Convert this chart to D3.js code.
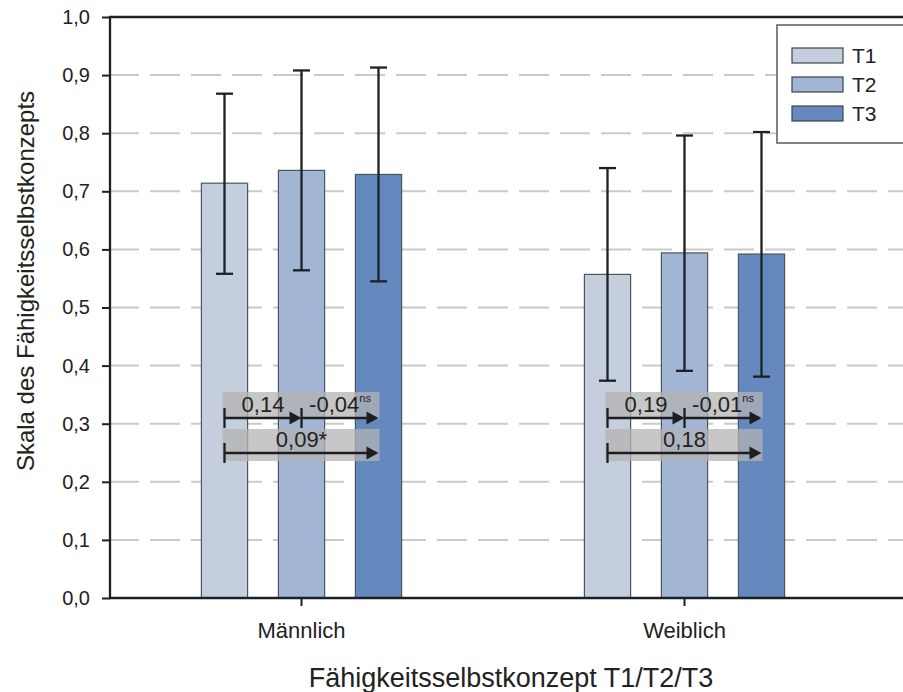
<!DOCTYPE html>
<html>
<head>
<meta charset="utf-8">
<script src="https://cdn.jsdelivr.net/npm/d3@7"></script>
<style>
  body { margin: 0; background: #fff; }
  svg { display: block; font-family: "Liberation Sans", Arial, Helvetica, sans-serif; }
</style>
</head>
<body>
<svg id="chart" width="903" height="692"></svg>
<script>
// ---------- data ----------
const categories = ["Männlich", "Weiblich"];
const series = ["T1", "T2", "T3"];
const seriesColors = ["#c5cedd", "#a2b5d5", "#6589bf"];
const meanT1 = [0.714, 0.557];
const meanT2 = [0.736, 0.594];
const meanT3 = [0.729, 0.592];
const upperT1 = [0.868, 0.740];
const upperT2 = [0.908, 0.796];
const upperT3 = [0.913, 0.802];
const lowerT1 = [0.558, 0.374];
const lowerT2 = [0.564, 0.391];
const lowerT3 = [0.545, 0.381];
const yTicks = [0, 0.1, 0.2, 0.3, 0.4, 0.5, 0.6, 0.7, 0.8, 0.9, 1.0];
// effect-size annotations: row 1 = step comparisons, row 2 = T1 -> T3
const effectGroup = ["Männlich", "Männlich", "Männlich", "Weiblich", "Weiblich", "Weiblich"];
const effectFrom  = ["T1", "T2", "T1", "T1", "T2", "T1"];
const effectTo    = ["T2", "T3", "T3", "T2", "T3", "T3"];
const effectRow   = [0, 0, 1, 0, 0, 1];
const effectLabel = ["0,14", "-0,04", "0,09*", "0,19", "-0,01", "0,18"];
const effectSup   = ["", "ns", "", "", "ns", ""];
const xTitle = "Fähigkeitsselbstkonzept T1/T2/T3";
const yTitle = "Skala des Fähigkeitsselbstkonzepts";

const means = [meanT1, meanT2, meanT3];
const uppers = [upperT1, upperT2, upperT3];
const lowers = [lowerT1, lowerT2, lowerT3];

(function () {
// ---------- layout ----------
const svg = d3.select("#chart");
const W = 903;
const pLeft = 110, pTop = 17, pBottom = 598;
const dark = "#1a2224";

const y = d3.scaleLinear().domain([0, 1]).range([pBottom, pTop]);
const x0 = d3.scaleBand().domain(categories).range([pLeft, 876]).padding(0);
const x1 = d3.scaleBand().domain(series).range([-115.5, 115.5]).paddingInner(0.4).paddingOuter(0.2);
const color = d3.scaleOrdinal().domain(series).range(seriesColors);
const loc = d3.formatLocale({decimal: ",", thousands: ".", grouping: [3], currency: ["", "€"]});
const fmt = loc.format(".1f");
const cx = (g, s) => x0(g) + x0.bandwidth() / 2 + x1(s) + x1.bandwidth() / 2;

// grid lines
svg.append("g").selectAll("line")
  .data(yTicks.filter(t => t > 0 && t < 1))
  .join("line")
  .attr("x1", pLeft - 1).attr("x2", W)
  .attr("y1", d => y(d)).attr("y2", d => y(d))
  .attr("stroke", "#cacacd").attr("stroke-width", 2)
  .attr("stroke-dasharray", "30,11");

// bars
const rows = [];
categories.forEach((g, gi) => series.forEach((s, si) => rows.push({
  g, s, mean: means[si][gi], hi: uppers[si][gi], lo: lowers[si][gi]
})));

svg.append("g").selectAll("rect")
  .data(rows).join("rect")
  .attr("x", d => x0(d.g) + x0.bandwidth() / 2 + x1(d.s))
  .attr("width", x1.bandwidth())
  .attr("y", d => y(d.mean))
  .attr("height", d => y(0) - y(d.mean))
  .attr("fill", d => color(d.s))
  .attr("stroke", "#4d555a").attr("stroke-width", 1.2);

// error bars
const eb = svg.append("g").attr("stroke", dark).attr("stroke-width", 2.3);
rows.forEach(d => {
  const c = cx(d.g, d.s);
  eb.append("line").attr("x1", c).attr("x2", c).attr("y1", y(d.hi)).attr("y2", y(d.lo));
  eb.append("line").attr("x1", c - 8.5).attr("x2", c + 8.5).attr("y1", y(d.hi)).attr("y2", y(d.hi));
  eb.append("line").attr("x1", c - 8.5).attr("x2", c + 8.5).attr("y1", y(d.lo)).attr("y2", y(d.lo));
});

// annotation boxes
const rowBox = [[392, 419], [429, 461]];
const rowArrow = [418, 453];
categories.forEach(g => {
  rowBox.forEach(([t, b]) => {
    svg.append("rect")
      .attr("x", cx(g, "T1") - 2).attr("width", cx(g, "T3") - cx(g, "T1") + 3)
      .attr("y", t).attr("height", b - t)
      .attr("fill", "#b4b4b4").attr("fill-opacity", 0.74);
  });
});

// arrows
const ar = svg.append("g");
effectGroup.forEach((g, i) => {
  const xa = cx(g, effectFrom[i]), xb = cx(g, effectTo[i]);
  const yy = rowArrow[effectRow[i]];
  ar.append("line").attr("x1", xa).attr("x2", xa).attr("y1", yy - 10).attr("y2", yy + 10)
    .attr("stroke", "#1e1e1e").attr("stroke-width", 2.3);
  ar.append("line").attr("x1", xa).attr("x2", xb - 8).attr("y1", yy).attr("y2", yy)
    .attr("stroke", "#1e1e1e").attr("stroke-width", 2.5);
  ar.append("path")
    .attr("d", `M${xb},${yy} L${xb - 12},${yy - 6.5} L${xb - 12},${yy + 6.5} Z`)
    .attr("fill", "#1e1e1e");
  const t = svg.append("text")
    .attr("x", (xa + xb) / 2).attr("y", yy - 6)
    .attr("text-anchor", "middle").attr("font-size", 22).attr("fill", "#222");
  t.append("tspan").text(effectLabel[i]);
  if (effectSup[i]) {
    t.append("tspan").attr("font-size", 11).attr("dy", -10).text(effectSup[i]);
  }
});

// y axis
const yAxis = svg.append("g").attr("transform", `translate(${pLeft},0)`)
  .call(d3.axisLeft(y).tickValues(yTicks).tickFormat(fmt).tickSize(8).tickPadding(12));
yAxis.select(".domain").remove();
yAxis.selectAll(".tick line").attr("stroke", dark).attr("stroke-width", 2);
yAxis.selectAll("text").attr("font-size", 20).attr("fill", "#222");
yAxis.attr("font-family", null);
svg.append("line").attr("x1", pLeft).attr("x2", pLeft).attr("y1", pTop - 1).attr("y2", pBottom + 1)
  .attr("stroke", dark).attr("stroke-width", 2.3);

// x axis
const xAxis = svg.append("g").attr("transform", `translate(0,${pBottom})`)
  .call(d3.axisBottom(x0).tickSize(8).tickPadding(16));
xAxis.select(".domain").remove();
xAxis.selectAll(".tick line").attr("stroke", dark).attr("stroke-width", 2);
xAxis.selectAll("text").attr("font-size", 22).attr("fill", "#222");
xAxis.attr("font-family", null);
svg.append("line").attr("x1", pLeft - 1).attr("x2", W).attr("y1", pBottom).attr("y2", pBottom)
  .attr("stroke", dark).attr("stroke-width", 2.3);
// top frame
svg.append("line").attr("x1", pLeft - 1).attr("x2", W).attr("y1", pTop).attr("y2", pTop)
  .attr("stroke", dark).attr("stroke-width", 2.3);

// titles
svg.append("text").attr("x", 511).attr("y", 687).attr("text-anchor", "middle")
  .attr("font-size", 27).attr("fill", "#222").text(xTitle);
svg.append("text").attr("transform", "translate(34,281) rotate(-90)").attr("text-anchor", "middle")
  .attr("font-size", 24).attr("fill", "#222").text(yTitle);

// legend
const lg = svg.append("g");
lg.append("rect").attr("x", 777).attr("y", 25).attr("width", 160).attr("height", 118)
  .attr("fill", "#fff").attr("stroke", "#5a5a5a").attr("stroke-width", 1.5);
series.forEach((s, i) => {
  const cy = 55.5 + i * 29;
  lg.append("rect").attr("x", 792).attr("y", cy - 7.5).attr("width", 51).attr("height", 15)
    .attr("fill", color(s)).attr("stroke", "#3c4347").attr("stroke-width", 1.2);
  lg.append("text").attr("x", 852).attr("y", cy + 7.5).attr("font-size", 21).attr("fill", "#222").text(s);
});
})();
</script>
</body>
</html>
